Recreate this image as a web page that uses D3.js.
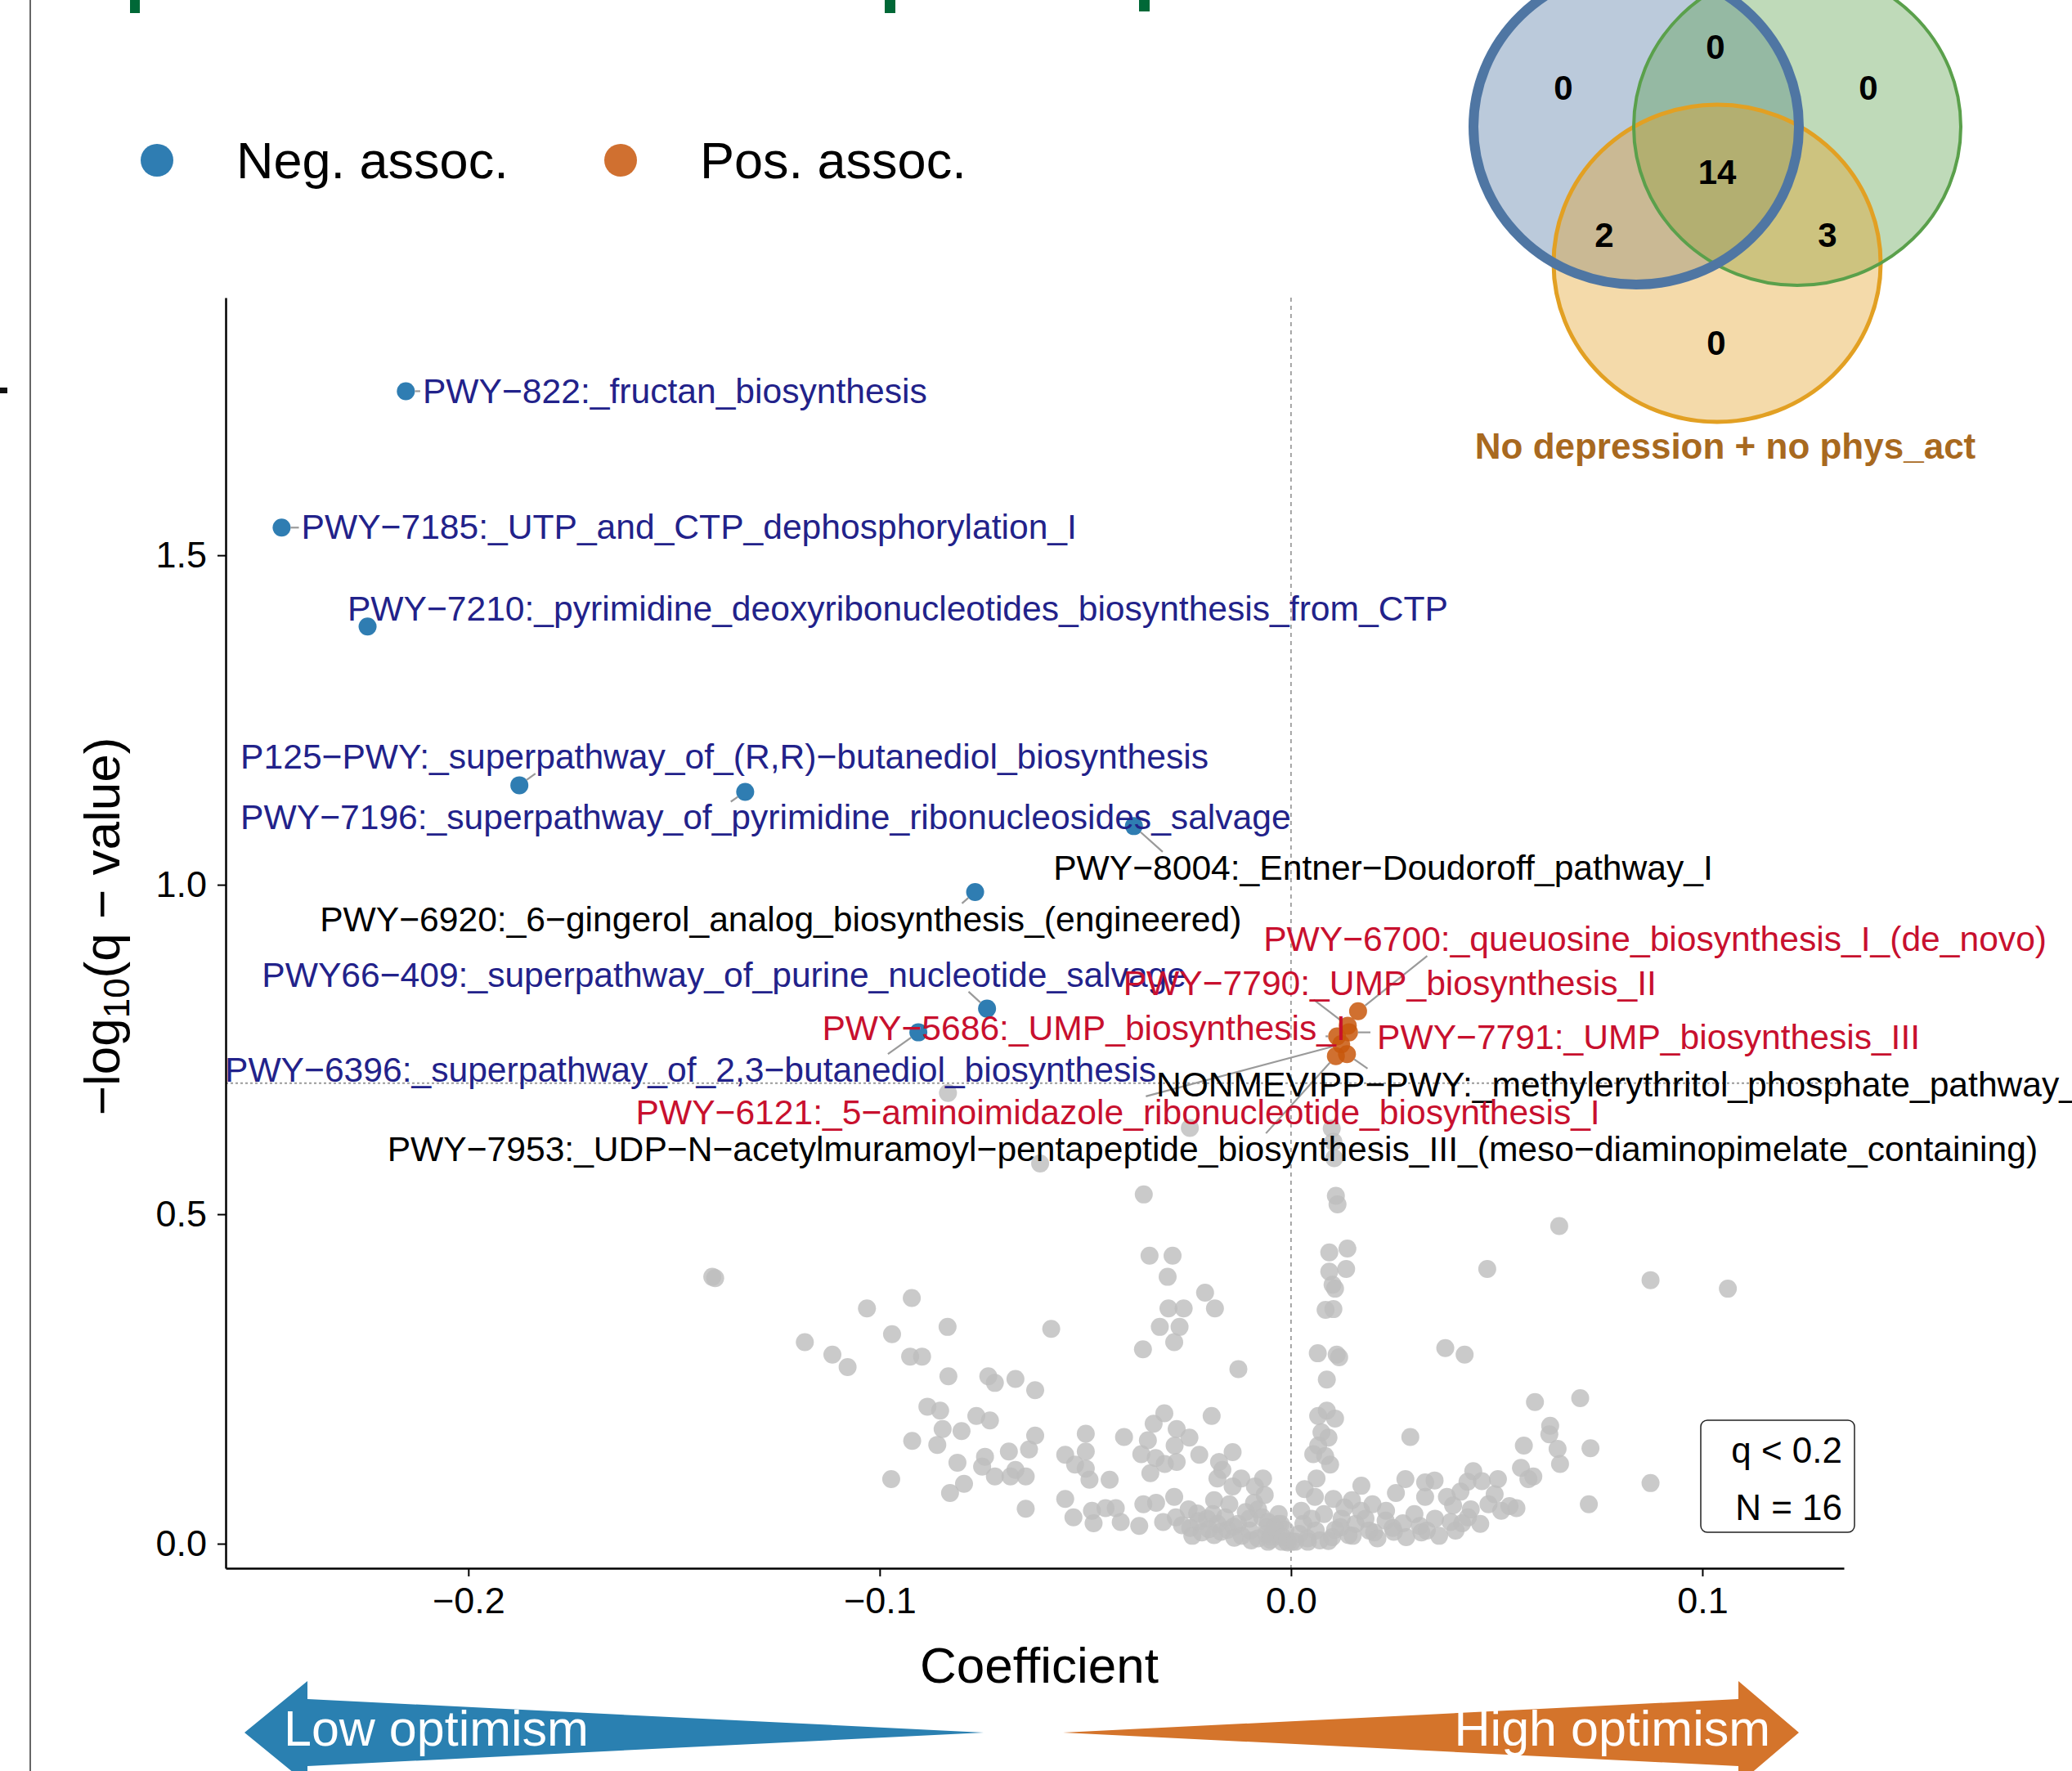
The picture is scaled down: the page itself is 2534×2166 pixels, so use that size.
<!DOCTYPE html>
<html>
<head>
<meta charset="utf-8">
<script src="https://cdn.jsdelivr.net/npm/d3@7"></script>
<style>
  body { margin: 0; background: #fff; }
  svg { display: block; font-family: "Liberation Sans", Arial, Helvetica, sans-serif; }
</style>
</head>
<body>
<svg id="chart"></svg>
<script>
// volcano.js

const width = 2534;
const height = 2166;

// significant pathways (q < 0.2, N = 16)
const sigNames = [
  "PWY−822:_fructan_biosynthesis",
  "PWY−7185:_UTP_and_CTP_dephosphorylation_I",
  "PWY−7210:_pyrimidine_deoxyribonucleotides_biosynthesis_from_CTP",
  "P125−PWY:_superpathway_of_(R,R)−butanediol_biosynthesis",
  "PWY−7196:_superpathway_of_pyrimidine_ribonucleosides_salvage",
  "PWY−8004:_Entner−Doudoroff_pathway_I",
  "PWY−6920:_6−gingerol_analog_biosynthesis_(engineered)",
  "PWY66−409:_superpathway_of_purine_nucleotide_salvage",
  "PWY−6396:_superpathway_of_2,3−butanediol_biosynthesis",
  "PWY−6700:_queuosine_biosynthesis_I_(de_novo)",
  "PWY−7790:_UMP_biosynthesis_II",
  "PWY−5686:_UMP_biosynthesis_I",
  "PWY−7791:_UMP_biosynthesis_III",
  "NONMEVIPP−PWY:_methylerythritol_phosphate_pathway_I",
  "PWY−6121:_5−aminoimidazole_ribonucleotide_biosynthesis_I",
  "PWY−7953:_UDP−N−acetylmuramoyl−pentapeptide_biosynthesis_III_(meso−diaminopimelate_containing)"
];
const sigCoef = [-0.2152, -0.2454, -0.2245, -0.1876, -0.1327, -0.0382, -0.0768, -0.0739, -0.0906,
                 0.0163, 0.0138, 0.0112, 0.0141, 0.0136, 0.0122, 0.0109];
const sigLogQ = [1.749, 1.542, 1.392, 1.151, 1.141, 1.089, 0.989, 0.812, 0.776,
                 0.808, 0.786, 0.770, 0.776, 0.743, 0.758, 0.740];
const sigTone = ["blue", "blue", "blue", "blue", "blue", "black", "black", "blue", "blue",
                 "red", "red", "red", "red", "black", "red", "black"];

// where the repelled labels ended up (left edge, middle), in data units
const labelX = [-0.2111, -0.2406, -0.2294, -0.2554, -0.2554, -0.0578, -0.2361, -0.2502, -0.2592,
                -0.0067, -0.0408, -0.1140, 0.0209, -0.0328, -0.1593, -0.2197];
const labelY = [1.7505, 1.544, 1.4197, 1.1951, 1.1029, 1.0267, 0.9485, 0.8642, 0.7199,
                0.9184, 0.8522, 0.7840, 0.7700, 0.6978, 0.6557, 0.5996];
// coefficient at which each connector meets its label box (null = no connector)
const segmentTouchX = [-0.2117, -0.2412, null, -0.1837, -0.1362, -0.0312, -0.0800, -0.0784, -0.0980,
                       0.0331, 0.0055, 0.0084, 0.0193, 0.0186, -0.0353, -0.0061];

// non-significant pathways [coefficient, -log10(q)]
const bgPoints = [
  [-0.0610,0.577],[-0.0358,0.530],[-0.0344,0.437],[-0.0288,0.437],[-0.0300,0.405],[-0.0209,0.381],
  [-0.0298,0.357],[-0.0261,0.357],[-0.0185,0.357],[-0.0319,0.329],[-0.0271,0.329],[-0.0284,0.306],
  [-0.0360,0.295],[-0.0128,0.265],[-0.0583,0.326],[-0.0835,0.329],[-0.0922,0.373],[-0.1031,0.357],
  [-0.0970,0.318],[-0.1182,0.306],[-0.1115,0.287],[-0.1078,0.268],[-0.0926,0.284],[-0.0897,0.284],
  [-0.0833,0.254],[-0.0736,0.254],[-0.0720,0.244],[-0.0670,0.250],[-0.0622,0.233],[-0.0884,0.208],
  [-0.0853,0.202],[-0.0847,0.174],[-0.0801,0.171],[-0.0765,0.194],[-0.0732,0.187],[-0.0921,0.156],
  [-0.0860,0.150],[-0.0811,0.123],[-0.0972,0.098],[-0.0795,0.091],[-0.0829,0.077],[-0.0744,0.132],
  [-0.0751,0.117],[-0.0720,0.102],[-0.0686,0.140],[-0.0670,0.112],[-0.0645,0.102],[-0.0682,0.102],
  [-0.0622,0.164],[-0.0637,0.143],[-0.0645,0.053],[-0.0549,0.135],[-0.0525,0.120],[-0.0499,0.167],
  [-0.0499,0.140],[-0.0499,0.114],[-0.0490,0.097],[-0.0441,0.097],[-0.0406,0.162],[-0.0348,0.157],
  [-0.0364,0.136],[-0.0334,0.182],[-0.0308,0.198],[-0.0278,0.174],[-0.0247,0.161],[-0.0283,0.149],
  [-0.0278,0.124],[-0.0329,0.130],[-0.0307,0.121],[-0.0342,0.107],[-0.0223,0.135],[-0.0193,0.194],
  [-0.0142,0.139],[-0.0284,0.071],[-0.0359,0.060],[-0.0328,0.062],[-0.0369,0.027],[-0.0311,0.033],
  [-0.0549,0.068],[-0.0529,0.040],[-0.0484,0.050],[-0.0480,0.031],[-0.0451,0.054],[-0.0426,0.054],
  [-0.0414,0.033],[-0.0175,0.124],[-0.0167,0.112],[-0.0179,0.099],[-0.0121,0.099],[-0.0068,0.099],
  [-0.0142,0.087],[-0.0088,0.087],[-0.0064,0.074],[-0.0187,0.066],
  [-0.0249,0.052],[-0.0228,0.046],[-0.0204,0.038],[-0.0179,0.030],[-0.0245,0.024],[-0.0217,0.017],
  [-0.0187,0.013],[-0.0154,0.021],[-0.0129,0.030],[-0.0101,0.038],[-0.0080,0.052],[-0.0056,0.033],
  [-0.0031,0.030],[-0.0014,0.021],[-0.0138,0.009],[-0.0097,0.005],[-0.0056,0.003],[-0.0022,0.003],
  [0.0002,0.003],
  [0.0105,0.585],[0.0109,0.528],[0.0113,0.515],[0.0652,0.482],[0.0137,0.448],[0.0093,0.442],
  [0.0134,0.417],[0.0093,0.413],[0.0477,0.417],[0.0874,0.400],[0.1062,0.387],[0.0101,0.393],
  [0.0107,0.387],[0.0084,0.355],[0.0103,0.356],[0.0065,0.289],[0.0111,0.287],[0.0117,0.283],
  [0.0087,0.249],[0.0375,0.297],[0.0422,0.287],[0.0593,0.215],[0.0703,0.221],[0.0630,0.179],
  [0.0628,0.166],[0.0566,0.149],[0.0648,0.144],[0.0728,0.145],[0.0654,0.121],[0.0290,0.162],
  [0.0559,0.115],[0.0589,0.102],[0.0577,0.098],[0.0874,0.092],[0.0724,0.060],[0.0278,0.098],
  [0.0326,0.093],[0.0349,0.096],[0.0326,0.071],[0.0443,0.110],[0.0464,0.095],[0.0503,0.098],
  [0.0495,0.075],[0.0429,0.094],[0.0412,0.079],[0.0379,0.071],[0.0394,0.058],[0.0437,0.052],
  [0.0511,0.050],[0.0548,0.054],[0.0531,0.057],[0.0255,0.077],[0.0171,0.088],[0.0148,0.066],
  [0.0103,0.068],[0.0198,0.060],[0.0231,0.050],[0.0272,0.031],[0.0313,0.027],[0.0350,0.038],
  [0.0388,0.033],[0.0416,0.031],[0.0317,0.017],[0.0247,0.024],[0.0202,0.017],[0.0140,0.013],
  [0.0091,0.004],[0.0041,0.003],[-0.0008,0.002],[-0.0050,0.011],[-0.0058,0.025],
  [0.0050,0.038],[0.0058,0.071],[0.0062,0.099],[0.0054,0.136],[0.0066,0.149],[0.0074,0.169],
  [0.0066,0.194],[0.0087,0.202],[0.0107,0.190],[0.0091,0.161],[0.0095,0.120],[0.0083,0.133],
  [0.0033,0.083],[0.0025,0.050],[0.0123,0.038],[0.0107,0.021],[0.0157,0.030],[0.0181,0.038],
  [-0.0025,0.030],
  [-0.0834,0.684],[-0.0246,0.631],[0.0099,0.630],[0.0103,0.610],[-0.1407,0.405],[-0.1400,0.403],
  [-0.0280,0.040],[-0.0265,0.028],[-0.0240,0.012],[-0.0225,0.034],[-0.0200,0.022],[-0.0190,0.045],
  [-0.0170,0.018],[-0.0160,0.040],[-0.0150,0.060],[-0.0140,0.026],[-0.0120,0.012],[-0.0110,0.048],
  [-0.0100,0.020],[-0.0090,0.062],[-0.0080,0.008],[-0.0070,0.040],[-0.0060,0.015],[-0.0050,0.006],
  [-0.0040,0.025],[-0.0030,0.045],[-0.0020,0.010],[-0.0010,0.004],[0.0010,0.003],[0.0020,0.015],
  [0.0030,0.030],[0.0040,0.008],[0.0060,0.020],[0.0070,0.005],[0.0080,0.045],[0.0100,0.010],
  [0.0120,0.025],[0.0130,0.055],[0.0150,0.012],[0.0170,0.050],[0.0190,0.020],[0.0210,0.008],
  [0.0230,0.035],[0.0250,0.018],[0.0280,0.010],[0.0300,0.045],[0.0330,0.020],[0.0360,0.012],
  [0.0400,0.020],[0.0430,0.040],[0.0460,0.030],[0.0480,0.060]
];

const xTicks = [-0.2, -0.1, 0.0, 0.1];
const yTicks = [0.0, 0.5, 1.0, 1.5];
const qThreshold = 0.2;
const legendLabels = ["Neg. assoc.", "Pos. assoc."];

// venn region counts: A, AB, B, ABC, AC, BC, C
const vennCounts = [0, 0, 0, 14, 2, 3, 0];
const vennSetName = "No depression + no phys_act";

const toneColor = { blue: "#22228a", red: "#c8102e", black: "#000" };
const negFill = "#0a66a4";
const posFill = "#c8570c";

const svg = d3.select("#chart")
              .attr("width", width)
              .attr("height", height);

// left panel edge and leftover bits of neighbouring panels
svg.append("line").attr("x1", 37).attr("x2", 37).attr("y1", 0).attr("y2", height)
   .attr("stroke", "#666").attr("stroke-width", 2);
svg.append("rect").attr("x", 0).attr("y", 474).attr("width", 9).attr("height", 7).attr("fill", "#111");
[[159, 0, 12, 16], [1082, 0, 13, 16], [1393, 0, 13, 14]].forEach(r => {
  svg.append("rect").attr("x", r[0]).attr("y", r[1]).attr("width", r[2]).attr("height", r[3])
     .attr("fill", "#006837");
});

const x = d3.scaleLinear().domain([-0.259, 0.1344]).range([276, 2255]);
const y = d3.scaleLinear().domain([-0.0372, 1.891]).range([1918, 364]);

// reference lines
svg.append("line")
   .attr("x1", x(0)).attr("x2", x(0)).attr("y1", y.range()[1]).attr("y2", y.range()[0])
   .attr("stroke", "#8a8a8a").attr("stroke-width", 1.5).attr("stroke-dasharray", "5,5");
svg.append("line")
   .attr("x1", x.range()[0]).attr("x2", x.range()[1])
   .attr("y1", y(-Math.log10(qThreshold))).attr("y2", y(-Math.log10(qThreshold)))
   .attr("stroke", "#9a9a9a").attr("stroke-width", 2).attr("stroke-dasharray", "3,3");

// axes
const xAxis = svg.append("g")
   .attr("transform", `translate(0,${y.range()[0]})`)
   .call(d3.axisBottom(x).tickValues(xTicks).tickFormat(d3.format(".1f"))
           .tickSize(10).tickSizeOuter(0).tickPadding(13));
const yAxis = svg.append("g")
   .attr("transform", `translate(${x.range()[0]},0)`)
   .call(d3.axisLeft(y).tickValues(yTicks).tickFormat(d3.format(".1f"))
           .tickSize(10).tickSizeOuter(0).tickPadding(13));
[xAxis, yAxis].forEach(a => {
  a.select(".domain").attr("stroke", "#000").attr("stroke-width", 2.5);
  a.selectAll(".tick line").attr("stroke", "#000").attr("stroke-width", 2);
  a.selectAll(".tick text").attr("fill", "#000").style("font-size", "45px")
   .style("font-family", "Liberation Sans, Arial, sans-serif");
});

svg.append("text")
   .attr("x", 1271).attr("y", 2058)
   .attr("text-anchor", "middle")
   .style("font-size", "62px")
   .text("Coefficient");

const yTitle = svg.append("text")
   .attr("transform", "translate(146,1133) rotate(-90)")
   .attr("text-anchor", "middle")
   .style("font-size", "62px");
yTitle.append("tspan").text("−log");
yTitle.append("tspan").attr("dy", 12).style("font-size", "44px").text("10");
yTitle.append("tspan").attr("dy", -12).text("(q − value)");

// background points
svg.append("g").selectAll("circle")
   .data(bgPoints)
   .enter()
   .append("circle")
   .attr("cx", d => x(d[0]))
   .attr("cy", d => y(d[1]))
   .attr("r", 11)
   .attr("fill", "#bdbdbd")
   .attr("fill-opacity", 0.8);

const sig = sigNames.map((name, i) => ({
  name, coef: sigCoef[i], q: sigLogQ[i], tone: sigTone[i],
  lx: labelX[i], ly: labelY[i], touch: segmentTouchX[i]
}));

svg.append("g").selectAll("circle")
   .data(sig)
   .enter()
   .append("circle")
   .attr("cx", d => x(d.coef))
   .attr("cy", d => y(d.q))
   .attr("r", 11)
   .attr("fill", d => d.coef < 0 ? negFill : posFill)
   .attr("fill-opacity", 0.85);

// labels, then connectors from each point to its label box
const segG = svg.append("g");
const labelSize = 42.6;
const labels = svg.append("g").selectAll("text")
   .data(sig)
   .enter()
   .append("text")
   .attr("x", d => x(d.lx))
   .attr("y", d => y(d.ly) + 0.36 * labelSize)
   .attr("fill", d => toneColor[d.tone])
   .style("font-size", labelSize + "px")
   .text(d => d.name);

labels.each(function(d) {
  if (d.touch === null) return;
  const b = this.getBBox();
  const y0 = b.y + 5, y1 = b.y + b.height - 3;
  const px = x(d.coef), py = y(d.q);
  const ex = x(d.touch), ey = Math.max(y0, Math.min(y1, py));
  const len = Math.hypot(ex - px, ey - py);
  if (len < 14) return;
  const sx = px + (ex - px) * 11 / len, sy = py + (ey - py) * 11 / len;
  segG.append("line")
      .attr("x1", sx).attr("y1", sy).attr("x2", ex).attr("y2", ey)
      .attr("stroke", "#9a9a9a").attr("stroke-width", 2.2);
});

// q < 0.2 annotation box
svg.append("rect")
   .attr("x", 2080).attr("y", 1737).attr("width", 188).attr("height", 137)
   .attr("rx", 8).attr("fill", "#fff").attr("stroke", "#222").attr("stroke-width", 1.5);
svg.append("text").attr("x", 2253).attr("y", 1789).attr("text-anchor", "end")
   .style("font-size", "44px").text(`q < ${qThreshold}`);
svg.append("text").attr("x", 2253).attr("y", 1859).attr("text-anchor", "end")
   .style("font-size", "44px").text(`N = ${sigNames.length}`);

// legend
const legend = svg.append("g").selectAll("g")
   .data(legendLabels)
   .enter()
   .append("g")
   .attr("transform", (d, i) => `translate(${192 + i * 567},196)`);
legend.append("circle").attr("r", 20)
   .attr("fill", (d, i) => i === 0 ? negFill : posFill).attr("fill-opacity", 0.85);
legend.append("text").attr("x", 97).attr("y", 22).style("font-size", "63px").text(d => d);

// direction arrows
const arrowPath = d3.line();
svg.append("path")
   .attr("d", arrowPath([[299, 2119], [376, 2056], [376, 2078], [1203, 2119], [376, 2160], [376, 2182]]) + "Z")
   .attr("fill", "#2a80b1");
svg.append("path")
   .attr("d", arrowPath([[1300, 2119], [2126, 2078], [2126, 2056], [2200, 2119], [2126, 2182], [2126, 2160]]) + "Z")
   .attr("fill", "#d4742b");
svg.append("text").attr("x", 347).attr("y", 2135).attr("fill", "#fff")
   .style("font-size", "61px").text("Low optimism");
svg.append("text").attr("x", 2165).attr("y", 2135).attr("fill", "#fff").attr("text-anchor", "end")
   .style("font-size", "61px").text("High optimism");

// venn diagram
const venn = svg.append("g");
const vennShapes = [
  { cx: 2001, cy: 155, rx: 199, ry: 193, color: "#4f76a3", sw: 12 },
  { cx: 2198, cy: 155, rx: 200, ry: 194, color: "#5aa04b", sw: 4 },
  { cx: 2100, cy: 322, rx: 200, ry: 194, color: "#e2a023", sw: 5 }
];
venn.selectAll("ellipse.fill")
    .data(vennShapes)
    .enter()
    .append("ellipse")
    .attr("class", "fill")
    .attr("cx", d => d.cx).attr("cy", d => d.cy).attr("rx", d => d.rx).attr("ry", d => d.ry)
    .attr("fill", d => d.color).attr("fill-opacity", 0.39);
venn.selectAll("ellipse.edge")
    .data(vennShapes.slice().reverse())
    .enter()
    .append("ellipse")
    .attr("class", "edge")
    .attr("cx", d => d.cx).attr("cy", d => d.cy).attr("rx", d => d.rx).attr("ry", d => d.ry)
    .attr("fill", "none").attr("stroke", d => d.color).attr("stroke-width", d => d.sw);
const vennLabelPos = [[1912, 107], [2098, 57], [2285, 107], [2100, 210], [1962, 287], [2235, 287], [2099, 419]];
venn.selectAll("text.count")
    .data(vennCounts)
    .enter()
    .append("text")
    .attr("x", (d, i) => vennLabelPos[i][0])
    .attr("y", (d, i) => vennLabelPos[i][1])
    .attr("dy", "0.36em")
    .attr("text-anchor", "middle")
    .style("font-size", "42px")
    .style("font-weight", "bold")
    .text(d => d);
venn.append("text")
    .attr("x", 2110).attr("y", 561)
    .attr("text-anchor", "middle")
    .attr("fill", "#a8691f")
    .style("font-size", "44px")
    .style("font-weight", "bold")
    .text(vennSetName);
</script>
</body>
</html>
